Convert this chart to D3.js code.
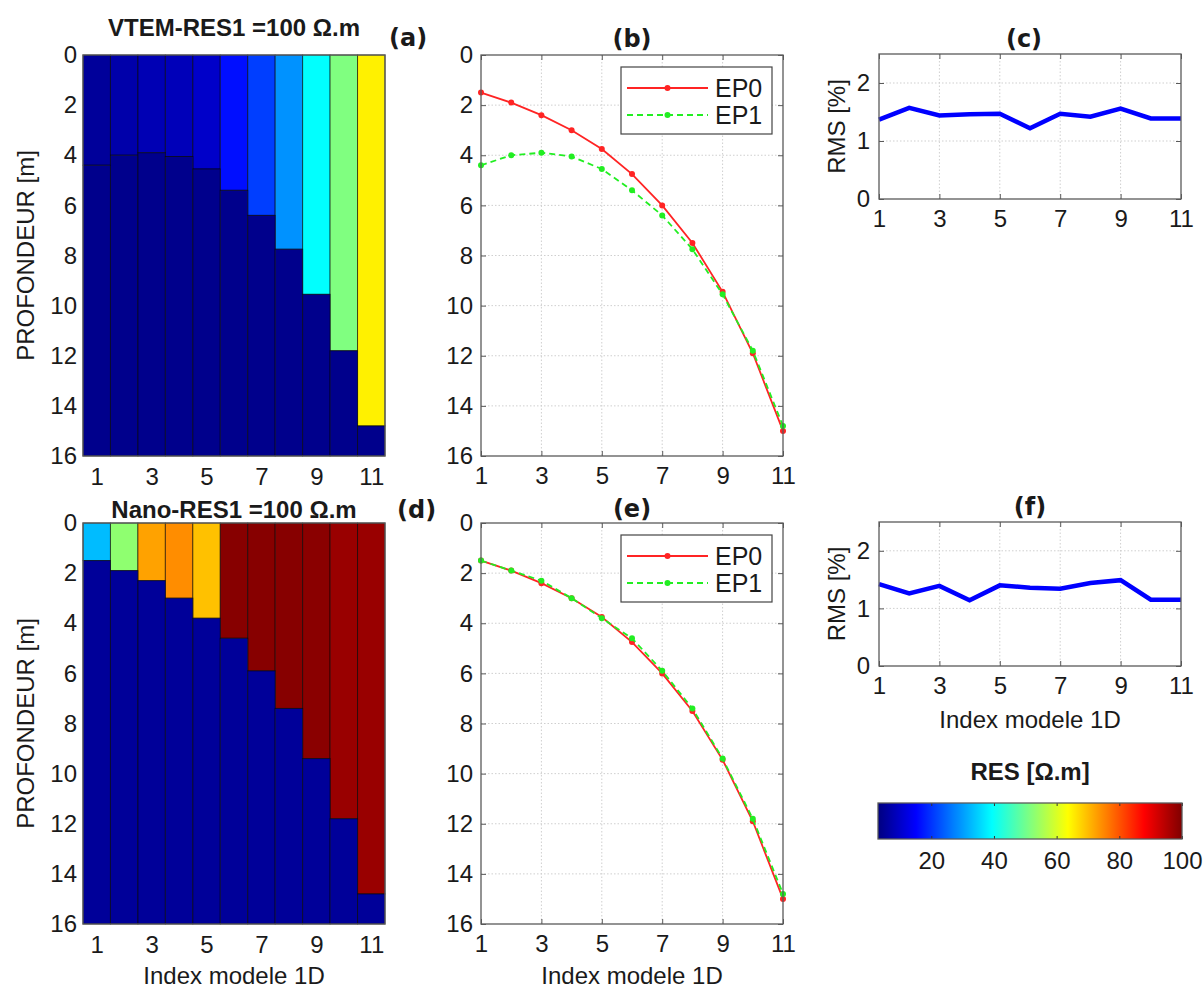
<!DOCTYPE html>
<html>
<head>
<meta charset="utf-8">
<script src="https://cdn.jsdelivr.net/npm/d3@7"></script>
<style>
  html, body { margin: 0; padding: 0; background: #fff; }
  svg { display: block; }
</style>
</head>
<body>
<svg id="fig" width="1203" height="988"></svg>
<script>
// ---------- data ----------
const models = [1, 2, 3, 4, 5, 6, 7, 8, 9, 10, 11];

// VTEM inversion: first-layer resistivity, second-layer resistivity, interface depth (m)
const vtemTopRes    = [5.5, 7, 8, 8.5, 10, 16.5, 21, 29, 39.5, 51.5, 65];
const vtemBottomRes = [4.2, 4.2, 4.2, 4.2, 4.2, 4.2, 4.2, 4.2, 4.2, 4.2, 4.2];
const vtemDepth     = [4.4, 4.0, 3.9, 4.05, 4.55, 5.4, 6.4, 7.75, 9.55, 11.8, 14.8];

// Nano inversion
const nanoTopRes    = [33, 53, 72.5, 74.5, 69.5, 99.3, 99.3, 99.3, 99, 97.6, 97.6];
const nanoBottomRes = [5.4, 5.4, 5.4, 5.4, 5.4, 5.4, 5.4, 5.4, 5.4, 5.4, 5.4];
const nanoDepth     = [1.5, 1.9, 2.3, 3.0, 3.8, 4.6, 5.9, 7.4, 9.4, 11.8, 14.8];

// reference interface depth (EP0)
const trueDepth = [1.5, 1.9, 2.4, 3.0, 3.75, 4.75, 6.0, 7.5, 9.45, 11.9, 15.0];

// data misfit
const vtemRms = [1.37, 1.57, 1.44, 1.46, 1.47, 1.22, 1.47, 1.42, 1.56, 1.39, 1.39];
const nanoRms = [1.42, 1.26, 1.39, 1.14, 1.40, 1.36, 1.34, 1.44, 1.49, 1.15, 1.15];

// axes
const depthTicks = [0, 2, 4, 6, 8, 10, 12, 14, 16];
const indexTicks = [1, 3, 5, 7, 9, 11];
const rmsTicks   = [0, 1, 2];
const resTicks   = [20, 40, 60, 80, 100];
const resRange   = [3, 100];
const depthRange = [0, 16];
const rmsRange   = [0, 2.5];

// ---------- styling ----------
const FONT = '"Liberation Sans", Arial, Helvetica, sans-serif';
const TAGFONT = '"DejaVu Sans", Verdana, sans-serif';
const FS = 24;
const INK = "#1a1a1a";
const FRAME = "#5a5a5a";
const plain = d => String(d);

const svg = d3.select("#fig");

// jet colormap
function jet(t) {
  t = Math.max(0, Math.min(1, t));
  const c = v => Math.max(0, Math.min(1, v));
  const r = c(1.5 - Math.abs(4 * t - 3));
  const g = c(1.5 - Math.abs(4 * t - 2));
  const b = c(1.5 - Math.abs(4 * t - 1));
  return d3.rgb(r * 255, g * 255, b * 255).formatHex();
}
const resColor = d3.scaleSequential(jet).domain(resRange);

function styleAxis(g) {
  g.attr("font-family", FONT).attr("font-size", FS).attr("color", INK);
  g.select(".domain").remove();
}

function frame(b) {
  svg.append("rect")
    .attr("x", b.x0).attr("y", b.y0)
    .attr("width", b.x1 - b.x0).attr("height", b.y1 - b.y0)
    .attr("fill", "none").attr("stroke", FRAME).attr("stroke-width", 1.3);
}

function title(text, x, y, bold, font, size, anchor) {
  svg.append("text")
    .attr("x", x).attr("y", y)
    .attr("text-anchor", anchor || "middle")
    .attr("font-family", font || FONT)
    .attr("font-size", size || FS)
    .attr("font-weight", bold ? "bold" : "normal")
    .attr("fill", INK)
    .text(text);
}

function ylabel(text, x, yc) {
  svg.append("text")
    .attr("transform", `translate(${x},${yc}) rotate(-90)`)
    .attr("text-anchor", "middle")
    .attr("font-family", FONT).attr("font-size", FS)
    .attr("fill", INK)
    .text(text);
}

// ---------- panels ----------
const P = {
  a:  { x0: 83,  x1: 385,  y0: 55,  y1: 456 },
  b:  { x0: 481, x1: 783,  y0: 55,  y1: 456 },
  c:  { x0: 879, x1: 1181, y0: 54,  y1: 199 },
  d:  { x0: 83,  x1: 385,  y0: 523, y1: 924 },
  e:  { x0: 481, x1: 783,  y0: 523, y1: 924 },
  f:  { x0: 879, x1: 1181, y0: 522, y1: 666 },
  cb: { x0: 878, x1: 1182, y0: 803, y1: 839 }
};

// two-layer resistivity sections
function modelPanel(b, topRes, bottomRes, depth) {
  const x = d3.scaleLinear().domain([0.5, 11.5]).range([b.x0, b.x1]);
  const y = d3.scaleLinear().domain(depthRange).range([b.y0, b.y1]);
  const cols = models.map((m, i) => ({ m, top: topRes[i], bot: bottomRes[i], z: depth[i] }));
  const g = svg.append("g");
  const edge = "rgba(0,0,0,0.6)";

  g.selectAll("rect.upper").data(cols).join("rect")
    .attr("class", "upper")
    .attr("x", d => x(d.m - 0.5)).attr("width", d => x(d.m + 0.5) - x(d.m - 0.5))
    .attr("y", y(0)).attr("height", d => y(d.z) - y(0))
    .attr("fill", d => resColor(d.top))
    .attr("stroke", edge).attr("stroke-width", 1);

  g.selectAll("rect.lower").data(cols).join("rect")
    .attr("class", "lower")
    .attr("x", d => x(d.m - 0.5)).attr("width", d => x(d.m + 0.5) - x(d.m - 0.5))
    .attr("y", d => y(d.z)).attr("height", d => y(depthRange[1]) - y(d.z))
    .attr("fill", d => resColor(d.bot))
    .attr("stroke", edge).attr("stroke-width", 1);

  frame(b);

  svg.append("g").attr("transform", `translate(${b.x0},0)`)
    .call(d3.axisLeft(y).tickValues(depthTicks).tickFormat(plain).tickSize(0).tickPadding(6))
    .call(styleAxis);
  svg.append("g").attr("transform", `translate(0,${b.y1})`)
    .call(d3.axisBottom(x).tickValues(indexTicks).tickFormat(plain).tickSize(0).tickPadding(12))
    .call(styleAxis);
}

// inward ticks on all four sides plus dotted grid
function boxAxes(b, x, y, xt, yt, ypad) {
  const grid = svg.append("g").attr("stroke", "#cfcfcf").attr("stroke-width", 1)
    .attr("stroke-dasharray", "1.5,2");
  grid.selectAll("line.gx").data(xt.filter(v => x(v) > b.x0 + 1 && x(v) < b.x1 - 1)).join("line")
    .attr("x1", d => x(d)).attr("x2", d => x(d)).attr("y1", b.y0).attr("y2", b.y1);
  grid.selectAll("line.gy").data(yt.filter(v => y(v) > b.y0 + 1 && y(v) < b.y1 - 1)).join("line")
    .attr("y1", d => y(d)).attr("y2", d => y(d)).attr("x1", b.x0).attr("x2", b.x1);
  return function drawAxes() {
    const tk = g => g.selectAll(".tick line").attr("stroke", FRAME);
    svg.append("g").attr("transform", `translate(${b.x0},0)`)
      .call(d3.axisLeft(y).tickValues(yt).tickFormat(plain).tickSizeInner(-5).tickSizeOuter(0).tickPadding(ypad))
      .call(styleAxis).call(tk);
    svg.append("g").attr("transform", `translate(${b.x1},0)`)
      .call(d3.axisRight(y).tickValues(yt).tickSizeInner(-5).tickSizeOuter(0).tickFormat(""))
      .call(styleAxis).call(tk);
    svg.append("g").attr("transform", `translate(0,${b.y1})`)
      .call(d3.axisBottom(x).tickValues(xt).tickFormat(plain).tickSizeInner(-5).tickSizeOuter(0).tickPadding(11))
      .call(styleAxis).call(tk);
    svg.append("g").attr("transform", `translate(0,${b.y0})`)
      .call(d3.axisTop(x).tickValues(xt).tickSizeInner(-5).tickSizeOuter(0).tickFormat(""))
      .call(styleAxis).call(tk);
    frame(b);
  };
}

const RED = "#ff2424";
const GREEN = "#22ee22";

function depthPanel(b, ep0, ep1) {
  const x = d3.scaleLinear().domain([1, 11]).range([b.x0, b.x1]);
  const y = d3.scaleLinear().domain(depthRange).range([b.y0, b.y1]);
  const axes = boxAxes(b, x, y, indexTicks, depthTicks, 8);
  const line = d3.line().x((d, i) => x(models[i])).y(d => y(d));

  const series = [
    { name: "EP0", values: ep0, color: RED, dash: null },
    { name: "EP1", values: ep1, color: GREEN, dash: "6,4" }
  ];
  series.forEach(s => {
    svg.append("path").datum(s.values)
      .attr("d", line).attr("fill", "none")
      .attr("stroke", s.color).attr("stroke-width", 1.8)
      .attr("stroke-dasharray", s.dash);
    svg.append("g").selectAll("circle").data(s.values).join("circle")
      .attr("cx", (d, i) => x(models[i])).attr("cy", d => y(d))
      .attr("r", 3).attr("fill", s.color);
  });
  axes();

  // legend
  const lx = 621, lw = 151, ly = b.y0 + 12, lh = 67;
  const lg = svg.append("g");
  lg.append("rect").attr("x", lx).attr("y", ly).attr("width", lw).attr("height", lh)
    .attr("fill", "#fff").attr("stroke", "#444").attr("stroke-width", 1.2);
  series.forEach((s, i) => {
    const yy = ly + 21 + i * 27;
    lg.append("line").attr("x1", lx + 6).attr("x2", lx + 87).attr("y1", yy).attr("y2", yy)
      .attr("stroke", s.color).attr("stroke-width", 1.8).attr("stroke-dasharray", s.dash);
    lg.append("circle").attr("cx", lx + 46.5).attr("cy", yy).attr("r", 3).attr("fill", s.color);
    lg.append("text").attr("x", lx + 94).attr("y", yy).attr("dy", "0.36em")
      .attr("font-family", FONT).attr("font-size", 25).attr("fill", INK).text(s.name);
  });
}

function rmsPanel(b, rms) {
  const x = d3.scaleLinear().domain([1, 11]).range([b.x0, b.x1]);
  const y = d3.scaleLinear().domain(rmsRange).range([b.y1, b.y0]);
  const axes = boxAxes(b, x, y, indexTicks, rmsTicks, 9);
  svg.append("path").datum(rms)
    .attr("d", d3.line().x((d, i) => x(models[i])).y(d => y(d)))
    .attr("fill", "none").attr("stroke", "#0000ff").attr("stroke-width", 4.5)
    .attr("stroke-linejoin", "miter");
  axes();
}

// ---------- draw ----------
modelPanel(P.a, vtemTopRes, vtemBottomRes, vtemDepth);
modelPanel(P.d, nanoTopRes, nanoBottomRes, nanoDepth);
depthPanel(P.b, trueDepth, vtemDepth);
depthPanel(P.e, trueDepth, nanoDepth);
rmsPanel(P.c, vtemRms);
rmsPanel(P.f, nanoRms);

// titles and panel tags
title("VTEM-RES1 =100 \u03A9.m", 234, 36, true, FONT, 24);
title("Nano-RES1 =100 \u03A9.m", 234, 518, true, FONT, 24);
title("(a)", 389, 46, true, TAGFONT, 24, "start");
title("(d)", 397, 518, true, TAGFONT, 24, "start");
title("(b)", 632, 47, true, TAGFONT, 24);
title("(e)", 632, 517, true, TAGFONT, 24);
title("(c)", 1024, 47, true, TAGFONT, 24);
title("(f)", 1030, 515, true, TAGFONT, 24);

ylabel("PROFONDEUR [m]", 34, (P.a.y0 + P.a.y1) / 2);
ylabel("PROFONDEUR [m]", 34, (P.d.y0 + P.d.y1) / 2);
ylabel("RMS [%]", 845, (P.c.y0 + P.c.y1) / 2);
ylabel("RMS [%]", 845, (P.f.y0 + P.f.y1) / 2);

title("Index modele 1D", 234, 984);
title("Index modele 1D", 632, 984);
title("Index modele 1D", 1030, 728);

// ---------- colour bar ----------
const cb = P.cb;
const cx = d3.scaleLinear().domain(resRange).range([cb.x0, cb.x1]);
const defs = svg.append("defs");
const grad = defs.append("linearGradient").attr("id", "jetbar")
  .attr("x1", "0%").attr("x2", "100%").attr("y1", "0%").attr("y2", "0%");
grad.selectAll("stop").data(d3.range(0, 1.0001, 1 / 64)).join("stop")
  .attr("offset", d => `${d * 100}%`)
  .attr("stop-color", d => jet(d));
svg.append("rect").attr("x", cb.x0).attr("y", cb.y0)
  .attr("width", cb.x1 - cb.x0).attr("height", cb.y1 - cb.y0)
  .attr("fill", "url(#jetbar)");
svg.append("g").attr("transform", `translate(0,${cb.y1})`)
  .call(d3.axisBottom(cx).tickValues(resTicks).tickFormat(plain).tickSizeInner(-3).tickSizeOuter(0).tickPadding(13))
  .call(styleAxis)
  .call(g => g.selectAll(".tick line").attr("stroke", "#333"));
svg.append("g").attr("transform", `translate(0,${cb.y0})`)
  .call(d3.axisTop(cx).tickValues(resTicks).tickSizeInner(-3).tickSizeOuter(0).tickFormat(""))
  .call(styleAxis)
  .call(g => g.selectAll(".tick line").attr("stroke", "#333"));
svg.append("rect").attr("x", cb.x0).attr("y", cb.y0)
  .attr("width", cb.x1 - cb.x0).attr("height", cb.y1 - cb.y0)
  .attr("fill", "none").attr("stroke", FRAME).attr("stroke-width", 1.3);
title("RES [\u03A9.m]", 1030, 780, true, FONT, 24);
</script>
</body>
</html>
